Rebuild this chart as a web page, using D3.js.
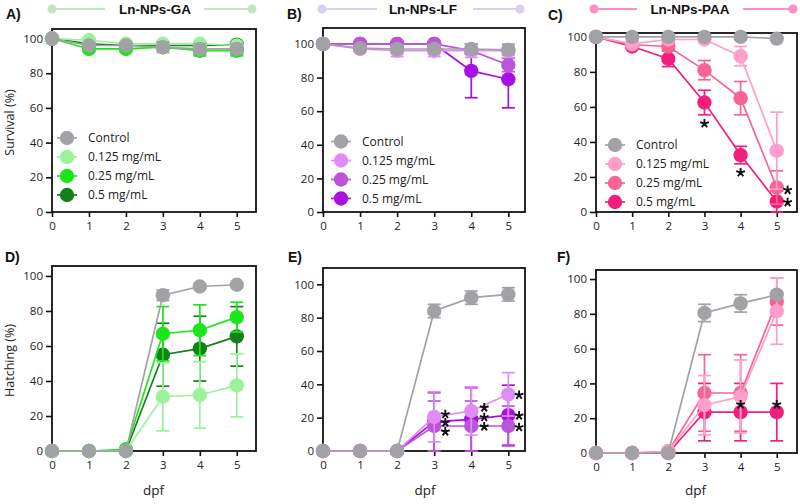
<!DOCTYPE html>
<html><head><meta charset="utf-8">
<script src="https://cdn.jsdelivr.net/npm/d3@7"></script>
<style>
html,body{margin:0;padding:0;background:#fff;}
svg{display:block;}
</style></head>
<body>
<svg id="chart" width="800" height="504"></svg>
<script>
// ---------- DATA ----------
const days = [0, 1, 2, 3, 4, 5];
const groups = ["Control", "0.125 mg/mL", "0.25 mg/mL", "0.5 mg/mL"];
const yTicks = [0, 20, 40, 60, 80, 100];
const xTicks = [0, 1, 2, 3, 4, 5];
const panelTitles = ["Ln-NPs-GA", "Ln-NPs-LF", "Ln-NPs-PAA"];
const panelLetters = ["A)", "B)", "C)", "D)", "E)", "F)"];

// survival (%), order: Control, 0.125, 0.25, 0.5
const survGA = [
  [100, 96, 96, 95, 94, 94],
  [100, 99, 97, 97, 97, 96],
  [100, 94, 94, 95, 93, 93],
  [100, 97, 96, 96, 96, 96.5]];
const survGAErr = [
  [0, 1, 1.5, 3, 3, 3],
  [0, 1, 1, 1, 1, 1],
  [0, 1, 1, 1, 3, 3],
  [0, 1, 1, 1, 1, 1.5]];
const survLF = [
  [100, 97.5, 97, 97, 97, 96.5],
  [100, 97, 96, 96, 96, 96],
  [100, 100, 100, 100, 96, 87.5],
  [100, 100, 100, 100, 84, 79]];
const survLFErr = [
  [0, 1, 1, 1, 3, 3],
  [0, 1, 3.5, 3.5, 4, 4],
  [0, 0, 0, 0, 2, 4],
  [0, 0, 0, 0, 16, 17]];
const survPAA = [
  [100, 100, 100, 100, 100, 99],
  [100, 96, 98.5, 98.5, 89, 35],
  [100, 95.5, 94.5, 81, 65, 14],
  [100, 94.5, 87.5, 62.5, 32.5, 6]];
const survPAAErr = [
  [0, 0, 0, 0, 0, 0],
  [0, 1, 1, 1, 5.5, 22],
  [0, 1, 2, 5.5, 9.5, 9.5],
  [0, 1, 4.5, 7, 5, 6]];

// hatching (%)
const hatchGA = [
  [0, 0, 0, 89, 94, 95],
  [0, 0, 0, 31, 32, 37.5],
  [0, 0, 1, 67, 69, 76.5],
  [0, 0, 0, 55, 58.5, 65.5]];
const hatchGAErr = [
  [0, 0, 0, 3, 1, 1],
  [0, 0, 0, 19.5, 19, 18],
  [0, 0, 0, 15.5, 14.5, 8.5],
  [0, 0, 0, 18, 18.5, 17]];
const hatchLF = [
  [0, 0, 0, 84, 92, 94],
  [0, 0, 0, 20.5, 24, 34],
  [0, 0, 0, 15, 15, 15],
  [0, 0, 0, 17.5, 19, 21.5]];
const hatchLFErr = [
  [0, 0, 0, 4, 4, 4],
  [0, 0, 0, 15, 14.5, 13],
  [0, 0, 0, 15, 15, 12],
  [0, 0, 0, 17.5, 19, 18]];
const hatchPAA = [
  [0, 0, 0, 80.5, 86, 91],
  [0, 0, 1, 27.5, 32.5, 81.5],
  [0, 0, 1, 34.5, 34.5, 87],
  [0, 0, 0, 23.5, 23.5, 23.5]];
const hatchPAAErr = [
  [0, 0, 0, 5, 5, 0],
  [0, 0, 0, 17, 21, 19],
  [0, 0, 0, 22, 22, 13.5],
  [0, 0, 0, 16.5, 16.5, 16.5]];

// significance marks [dpf, value]
const starsC = [[3, 50.5], [4, 22.5], [5.3, 12.5], [5.3, 5.5]];
const starsE = [[3.3, 22], [3.3, 17], [3.3, 11.6], [4.35, 26], [4.35, 20.2], [4.35, 14.6], [5.29, 33.6], [5.29, 21.2], [5.29, 14.2]];
const starsF = [[4, 27.8], [5, 27.8]];

// ---------- STYLE ----------
const grey = "#a2a2a6";
const palettes = [
  [grey, "#9af29a", "#1ae61a", "#14801a"],
  [grey, "#e18cf6", "#ba55d9", "#a90fe5"],
  [grey, "#ff9dcb", "#f66592", "#f11e7d"]];
const headerColors = ["#bde8bd", "#dacdf2", "#fd8fc3"];

const panels = [
  {vals: survGA, err: survGAErr, col: 0, left: 52, right: 256, top: 29, bottom: 212, xMax: 5.52, yMax: 105.5, legend: {x: 67, y: 138}, ylab: "Survival (%)", stars: []},
  {vals: survLF, err: survLFErr, col: 1, left: 323, right: 525, top: 28, bottom: 212, xMax: 5.45, yMax: 109.5, legend: {x: 341, y: 141.5}, stars: []},
  {vals: survPAA, err: survPAAErr, col: 2, left: 596, right: 797, top: 33, bottom: 212, xMax: 5.56, yMax: 102.2, legend: {x: 615, y: 145}, stars: starsC},
  {vals: hatchGA, err: hatchGAErr, col: 0, left: 52, right: 256, top: 266, bottom: 451, xMax: 5.52, yMax: 105.7, ylab: "Hatching (%)", xlab: "dpf", stars: []},
  {vals: hatchLF, err: hatchLFErr, col: 1, left: 323, right: 525, top: 268, bottom: 451, xMax: 5.45, yMax: 109.8, xlab: "dpf", stars: starsE},
  {vals: hatchPAA, err: hatchPAAErr, col: 2, left: 596, right: 797, top: 270, bottom: 453, xMax: 5.56, yMax: 105.2, xlab: "dpf", stars: starsF}];

const svg = d3.select("#chart");
const tickFont = "'Open Sans', 'Noto Sans', sans-serif";
const boldFont = "'Liberation Sans', Arial, sans-serif";

// five-armed asterisk path centred on (0,0)
const starArm = 4.6;
const starPath = d3.range(5).map(k => {
  const a = -Math.PI / 2 + k * 2 * Math.PI / 5;
  return `M0,0L${(starArm * Math.cos(a)).toFixed(2)},${(starArm * Math.sin(a)).toFixed(2)}`;
}).join("");

panels.forEach((p, pi) => {
  const x = d3.scaleLinear().domain([0, p.xMax]).range([p.left, p.right]);
  const y = d3.scaleLinear().domain([0, p.yMax]).range([p.bottom, p.top]);
  const colors = palettes[p.col];
  const g = svg.append("g");

  // axes
  const ax = g.append("g").attr("transform", `translate(0,${p.bottom})`)
    .call(d3.axisBottom(x).tickValues(xTicks).tickSize(5).tickPadding(5).tickFormat(d3.format("d")));
  const ay = g.append("g").attr("transform", `translate(${p.left},0)`)
    .call(d3.axisLeft(y).tickValues(yTicks).tickSize(6).tickPadding(3).tickFormat(d3.format("d")));
  [ax, ay].forEach(a => {
    a.select(".domain").remove();
    a.selectAll(".tick line").attr("stroke", "#111").attr("stroke-width", 1.6);
    a.selectAll(".tick text").attr("font-family", tickFont).attr("font-size", 11.5).attr("fill", "#222");
  });

  // frame
  g.append("rect").attr("x", p.left).attr("y", p.top)
    .attr("width", p.right - p.left).attr("height", p.bottom - p.top)
    .attr("fill", "none").attr("stroke", "#111").attr("stroke-width", 1.8);

  // series drawn in reverse so Control ends on top
  const order = [3, 2, 1, 0];
  order.forEach(si => {
    const vals = p.vals[si], errs = p.err[si], c = colors[si];
    const pts = days.map((d, i) => ({d, v: vals[i], e: errs[i]}));
    const sg = g.append("g");
    sg.append("path").datum(pts)
      .attr("d", d3.line().x(q => x(q.d)).y(q => y(q.v)))
      .attr("fill", "none").attr("stroke", c).attr("stroke-width", 1.7);
    pts.filter(q => q.e > 0).forEach(q => {
      const lo = Math.max(0, q.v - q.e), hi = q.v + q.e;
      sg.append("line").attr("x1", x(q.d)).attr("x2", x(q.d)).attr("y1", y(lo)).attr("y2", y(hi))
        .attr("stroke", c).attr("stroke-width", 1.7);
      [lo, hi].forEach(v => {
        sg.append("line").attr("x1", x(q.d) - 6.5).attr("x2", x(q.d) + 6.5).attr("y1", y(v)).attr("y2", y(v))
          .attr("stroke", c).attr("stroke-width", 1.7);
      });
    });
    sg.selectAll("circle").data(pts).join("circle")
      .attr("cx", q => x(q.d)).attr("cy", q => y(q.v)).attr("r", 7.2).attr("fill", c);
  });

  // significance stars
  g.selectAll("path.star").data(p.stars).join("path").attr("class", "star")
    .attr("transform", s => `translate(${x(s[0])},${y(s[1])})`)
    .attr("d", starPath).attr("fill", "none").attr("stroke", "#111")
    .attr("stroke-width", 1.9).attr("stroke-linecap", "butt");

  // legend
  if (p.legend) {
    groups.forEach((name, i) => {
      const ly = p.legend.y + i * 19;
      g.append("line").attr("x1", p.legend.x - 10).attr("x2", p.legend.x + 10).attr("y1", ly).attr("y2", ly)
        .attr("stroke", colors[i]).attr("stroke-width", 1.7);
      g.append("circle").attr("cx", p.legend.x).attr("cy", ly).attr("r", 7.2).attr("fill", colors[i]);
      g.append("text").attr("x", p.legend.x + 21).attr("y", ly).attr("dy", "0.35em")
        .attr("font-family", tickFont).attr("font-size", 12).attr("fill", "#222").text(name);
    });
  }

  // axis titles
  if (p.ylab) {
    g.append("text").attr("transform", `translate(14,${(p.top + p.bottom) / 2 + 2}) rotate(-90)`)
      .attr("text-anchor", "middle").attr("font-family", tickFont).attr("font-size", 12.5)
      .attr("fill", "#222").text(p.ylab);
  }
  if (p.xlab) {
    g.append("text").attr("x", x(2.75)).attr("y", 495).attr("text-anchor", "middle")
      .attr("font-family", tickFont).attr("font-size", 13.5).attr("fill", "#222").text(p.xlab);
  }
});

// panel letters
const letterPos = [[6, 19], [287, 19], [548, 20], [5, 262], [288, 262], [557, 262]];
panelLetters.forEach((t, i) => {
  svg.append("text").attr("x", letterPos[i][0]).attr("y", letterPos[i][1])
    .attr("font-family", boldFont).attr("font-weight", "bold").attr("font-size", 14)
    .attr("fill", "#111").text(t);
});

// headers
const headerGeom = [
  {l1: 52, l2: 105, c: 155, r1: 204, r2: 252},
  {l1: 322, l2: 377, c: 423, r1: 473, r2: 520},
  {l1: 594, l2: 637, c: 690, r1: 743, r2: 793}];
panelTitles.forEach((t, i) => {
  const h = headerGeom[i], c = headerColors[i], hy = 9;
  svg.append("line").attr("x1", h.l1).attr("x2", h.l2).attr("y1", hy).attr("y2", hy).attr("stroke", c).attr("stroke-width", 2.2);
  svg.append("line").attr("x1", h.r1).attr("x2", h.r2).attr("y1", hy).attr("y2", hy).attr("stroke", c).attr("stroke-width", 2.2);
  svg.append("circle").attr("cx", h.l1).attr("cy", hy).attr("r", 4.5).attr("fill", c);
  svg.append("circle").attr("cx", h.r2).attr("cy", hy).attr("r", 4.5).attr("fill", c);
  svg.append("text").attr("x", h.c).attr("y", 14).attr("text-anchor", "middle")
    .attr("font-family", boldFont).attr("font-weight", "bold").attr("font-size", 13.5)
    .attr("fill", "#111").text(t);
});
</script>
</body></html>
